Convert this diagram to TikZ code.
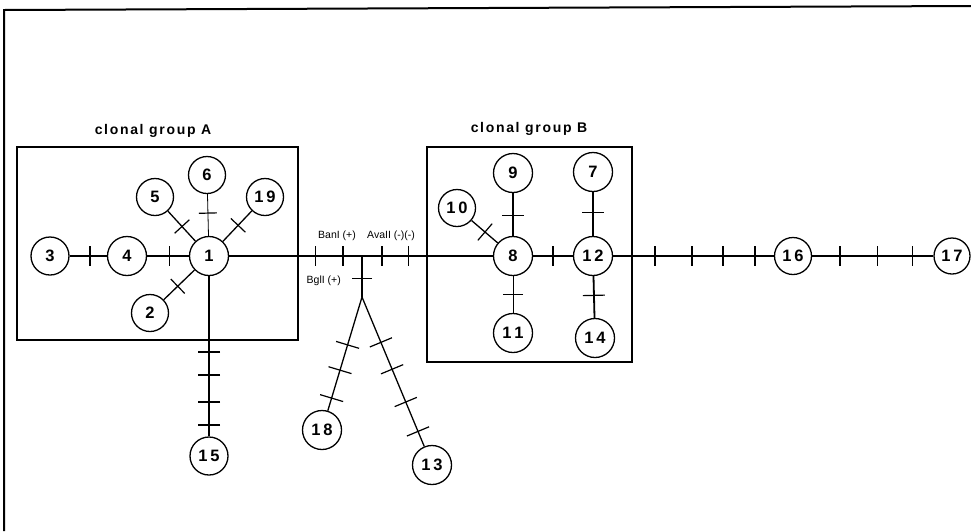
\documentclass[tikz,border=0pt]{standalone}
\usepackage{fontspec}
\setmainfont{Liberation Sans}
\usetikzlibrary{calc}

% cross tick on the line from #2 to #3 at fraction #4 (optional half-length #1)
\newcommand\tk[4][10pt]{%
  \draw[tickline] ($(#2)!#4!(#3)!#1!90:(#3)$) -- ($(#2)!#4!(#3)!#1!-90:(#3)$);}

\begin{document}
\begin{tikzpicture}[x=1pt,y=-1pt,
  iso/.style={circle,draw,line width=1.3pt,minimum size=39pt,inner sep=0pt,
    font=\bfseries\fontsize{16.5}{16.5}\selectfont},
  link/.style={line width=1.3pt},
  thinlink/.style={line width=0.8pt},
  tickline/.style={line width=1.2pt},
  group/.style={draw,line width=1.3pt},
  grouplabel/.style={font=\bfseries\fontsize{14}{14}\selectfont\addfontfeature{LetterSpace=12}},
  enzyme/.style={font=\fontsize{10.5}{11}\selectfont,inner sep=0pt}]
\useasboundingbox (0,0) rectangle (971,531);

% outer frame (top and left edges)
\draw[line width=2pt] (4,531) -- (4,10) -- (971,6);

% clonal group boxes
\draw[group] (17,147) rectangle (298,340);
\draw[group] (427,147) rectangle (632,362);
\node[grouplabel] (labA) at (153,131) {clonal group A};
\node[grouplabel] (labB) at (529,129) {clonal group B};

% isolates
\node[iso] (n1)  at (209,256) {1};
\node[iso] (n4)  at (127,256) {4};
\node[iso,minimum size=38pt] (n3)  at (50,256)  {3};
\node[iso,minimum size=37pt] (n5)  at (155,197) {5};
\node[iso,minimum size=37pt] (n6)  at (207,175) {6};
\node[iso,minimum size=37pt] (n19) at (265,197) {1\,9};
\node[iso,minimum size=37pt] (n2)  at (150,313) {2};
\node[iso,minimum size=38pt] (n15) at (209,456) {1\,5};
\node[iso] (n8)  at (513,256) {8};
\node[iso] (n12) at (593,256) {1\,2};
\node[iso] (n9)  at (513,173) {9};
\node[iso] (n7)  at (593,172) {7};
\node[iso,minimum size=37pt] (n10) at (457,208) {1\,0};
\node[iso] (n11) at (513,333) {1\,1};
\node[iso] (n14) at (595,338) {1\,4};
\node[iso,minimum size=37pt] (n16) at (793,256) {1\,6};
\node[iso,minimum size=36pt] (n17) at (952,256) {1\,7};
\node[iso] (n18) at (322,430) {1\,8};
\node[iso] (n13) at (432,465) {1\,3};

% branch points
\coordinate (J) at (362,256);
\coordinate (F) at (362,297);

% links in group A
\draw[link] (n3) -- (n4);  \tk{n3}{n4}{0.52}
\draw[link] (n4) -- (n1);  \tk{n4}{n1}{0.52}
\draw[link] (n1) -- (n5);  \tk{n1}{n5}{0.5}
\draw[thinlink] (n1) -- (n6); \tk[9pt]{n1}{n6}{0.53}
\draw[link] (n1) -- (n19); \tk{n1}{n19}{0.52}
\draw[link] (n1) -- (n2);  \tk{n1}{n2}{0.53}
\draw[link] (n1) -- (n15);
\tk[11pt]{n1}{n15}{0.48} \tk[11pt]{n1}{n15}{0.595}
\tk[11pt]{n1}{n15}{0.73} \tk[11pt]{n1}{n15}{0.845}

% link between the groups
\draw[link] (n1) -- (n8);
\tk{n1}{n8}{0.349} \tk{n1}{n8}{0.441} \tk{n1}{n8}{0.569} \tk{n1}{n8}{0.655}
\node[enzyme,anchor=south west] (eBan) at (318,241) {BanI (+)};
\node[enzyme,anchor=south west] (eAva) at (367,241) {AvaII (-)(-)};

% fork towards 18 and 13
\draw[link] (J) -- (F);
\tk{J}{F}{0.54}
\node[enzyme,anchor=east] (eBgl) at (341,281) {BglI (+)};
\draw[link] (F) -- (n18);
\tk[12pt]{F}{n18}{0.36} \tk[12pt]{F}{n18}{0.55} \tk[12pt]{F}{n18}{0.76}
\draw[link] (F) -- (n13);
\tk[12pt]{F}{n13}{0.27} \tk[12pt]{F}{n13}{0.43}
\tk[12pt]{F}{n13}{0.625} \tk[12pt]{F}{n13}{0.80}

% links in group B
\draw[link] (n8) -- (n9);  \tk[11pt]{n8}{n9}{0.49}
\draw[link] (n8) -- (n10); \tk[11pt]{n8}{n10}{0.5}
\draw[link] (n8) -- (n12); \tk{n8}{n12}{0.5}
\draw[thinlink] (n8) -- (n11); \tk[10pt]{n8}{n11}{0.5}
\draw[link] (n12) -- (n7); \tk[11pt]{n12}{n7}{0.52}
\draw[line width=1.8pt] (n12) -- (n14); \tk[11pt]{n12}{n14}{0.48}

% chain to 16 and 17
\draw[link] (n12) -- (n16);
\tk{n12}{n16}{0.31} \tk{n12}{n16}{0.495} \tk{n12}{n16}{0.65} \tk{n12}{n16}{0.81}
\draw[link] (n16) -- (n17);
\tk{n16}{n17}{0.296} \tk{n16}{n17}{0.53} \tk{n16}{n17}{0.75}
\end{tikzpicture}
\end{document}
